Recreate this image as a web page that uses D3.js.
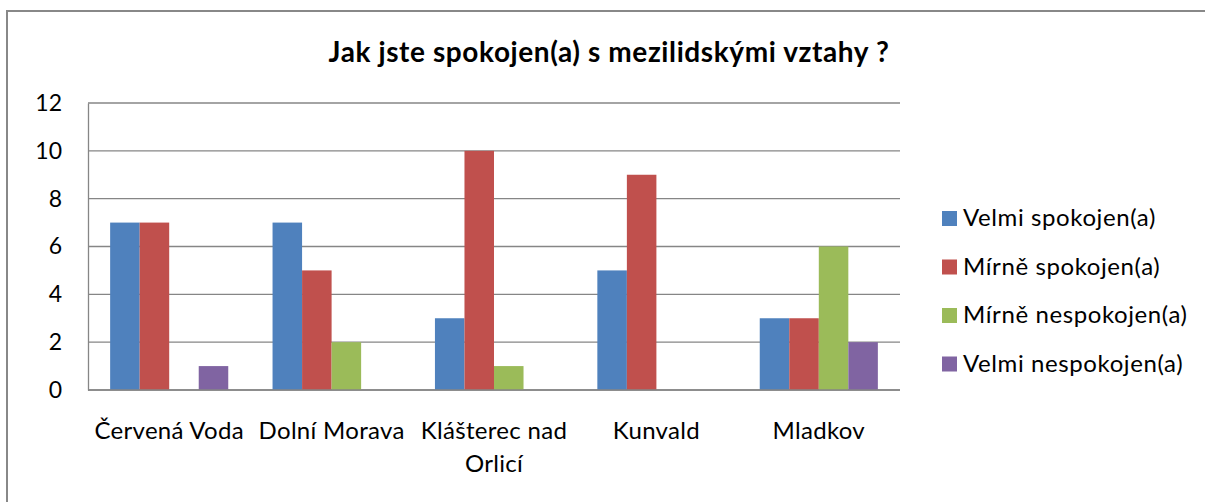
<!DOCTYPE html>
<html>
<head>
<meta charset="utf-8">
<script src="https://cdn.jsdelivr.net/npm/d3@7"></script>
<style>
  body { margin: 0; background: #fff; }
  svg { display: block; font-family: Lato, "Open Sans", sans-serif; }
</style>
</head>
<body>
<svg width="1205" height="502"></svg>
<script>
const title = "Jak jste spokojen(a) s mezilidskými vztahy ?";
const categories = ["Červená Voda", "Dolní Morava", "Klášterec nad Orlicí", "Kunvald", "Mladkov"];
const seriesNames = ["Velmi spokojen(a)", "Mírně spokojen(a)", "Mírně nespokojen(a)", "Velmi nespokojen(a)"];
const velmiSpokojen = [7, 7, 3, 5, 3];
const mirneSpokojen = [7, 5, 10, 9, 3];
const mirneNespokojen = [0, 2, 1, 0, 6];
const velmiNespokojen = [1, 0, 0, 0, 2];
const yTicks = [0, 2, 4, 6, 8, 10, 12];
const colors = ["#4F81BD", "#C0504D", "#9BBB59", "#8064A2"];

const seriesValues = [velmiSpokojen, mirneSpokojen, mirneNespokojen, velmiNespokojen];

const svg = d3.select("svg");
const plot = {left: 88, right: 900, top: 103, bottom: 390};

// outer chart border
svg.append("rect")
    .attr("x", 7).attr("y", 11)
    .attr("width", 1210).attr("height", 510)
    .attr("fill", "none")
    .attr("stroke", "#888")
    .attr("stroke-width", 2);

svg.append("text")
    .attr("x", 609).attr("y", 62)
    .attr("text-anchor", "middle")
    .attr("font-size", 28)
    .attr("font-weight", "bold")
    .attr("letter-spacing", 0.6)
    .attr("fill", "#000")
    .text(title);

const x0 = d3.scaleBand()
    .domain(categories)
    .range([plot.left, plot.right])
    .padding(0);

// gap width 150% -> 0.75 bar widths each side
const x1 = d3.scaleBand()
    .domain(d3.range(seriesNames.length))
    .range([0, x0.bandwidth()])
    .paddingInner(0)
    .paddingOuter(0.75);

const y = d3.scaleLinear()
    .domain([0, 12])
    .range([plot.bottom, plot.top]);

// gridlines
svg.append("g")
    .selectAll("line")
    .data(yTicks)
    .enter().append("line")
    .attr("x1", plot.left).attr("x2", plot.right)
    .attr("y1", d => y(d)).attr("y2", d => y(d))
    .attr("stroke", "#868686")
    .attr("stroke-width", 1.3);

// y axis
const yAxis = svg.append("g")
    .attr("transform", `translate(${plot.left},0)`)
    .call(d3.axisLeft(y).tickValues(yTicks).tickSize(0).tickPadding(26));
yAxis.select(".domain").attr("stroke", "#868686").attr("stroke-width", 1.3);
yAxis.selectAll("text")
    .attr("font-size", 23)
    .attr("font-family", "Lato")
    .attr("fill", "#000");

// bars
const groups = svg.append("g")
    .selectAll("g")
    .data(categories)
    .enter().append("g")
    .attr("transform", d => `translate(${x0(d)},0)`);

groups.selectAll("rect")
    .data((d, i) => seriesValues.map((vals, s) => ({s: s, v: vals[i]})))
    .enter().append("rect")
    .attr("x", d => x1(d.s))
    .attr("width", x1.bandwidth())
    .attr("y", d => y(d.v))
    .attr("height", d => y(0) - y(d.v))
    .attr("fill", d => colors[d.s]);

// x axis line
svg.append("line")
    .attr("x1", plot.left).attr("x2", plot.right)
    .attr("y1", plot.bottom).attr("y2", plot.bottom)
    .attr("stroke", "#868686")
    .attr("stroke-width", 1.3);

// category labels
const xAxis = svg.append("g")
    .attr("transform", `translate(0,${plot.bottom})`)
    .call(d3.axisBottom(x0).tickSize(0).tickPadding(32));
xAxis.select(".domain").remove();
xAxis.selectAll("text")
    .attr("font-size", 24)
    .attr("font-family", "Lato")
    .attr("letter-spacing", 0.3)
    .attr("fill", "#000")
    .call(wrap, x0.bandwidth() - 4);

// legend
const legend = svg.append("g")
    .selectAll("g")
    .data(seriesNames)
    .enter().append("g")
    .attr("transform", (d, i) => `translate(942,${218 + i * 48.5})`);
legend.append("rect")
    .attr("x", 0).attr("y", -7)
    .attr("width", 15).attr("height", 15)
    .attr("fill", (d, i) => colors[i]);
legend.append("text")
    .attr("x", 21).attr("y", 8)
    .attr("font-size", 24)
    .attr("letter-spacing", 0.6)
    .attr("fill", "#000")
    .text(d => d);

function wrap(text, width) {
  text.each(function() {
    const t = d3.select(this);
    const words = t.text().split(/\s+/);
    const yy = t.attr("y"), dy = parseFloat(t.attr("dy"));
    let line = [];
    let lineNo = 0;
    let tspan = t.text(null).append("tspan").attr("x", 0).attr("y", yy).attr("dy", dy + "em");
    words.forEach(w => {
      line.push(w);
      tspan.text(line.join(" "));
      if (tspan.node().getComputedTextLength() > width && line.length > 1) {
        line.pop();
        tspan.text(line.join(" "));
        line = [w];
        tspan = t.append("tspan").attr("x", 0).attr("y", yy)
            .attr("dy", (++lineNo * 1.375 + dy) + "em").text(w);
      }
    });
  });
}
</script>
</body>
</html>
